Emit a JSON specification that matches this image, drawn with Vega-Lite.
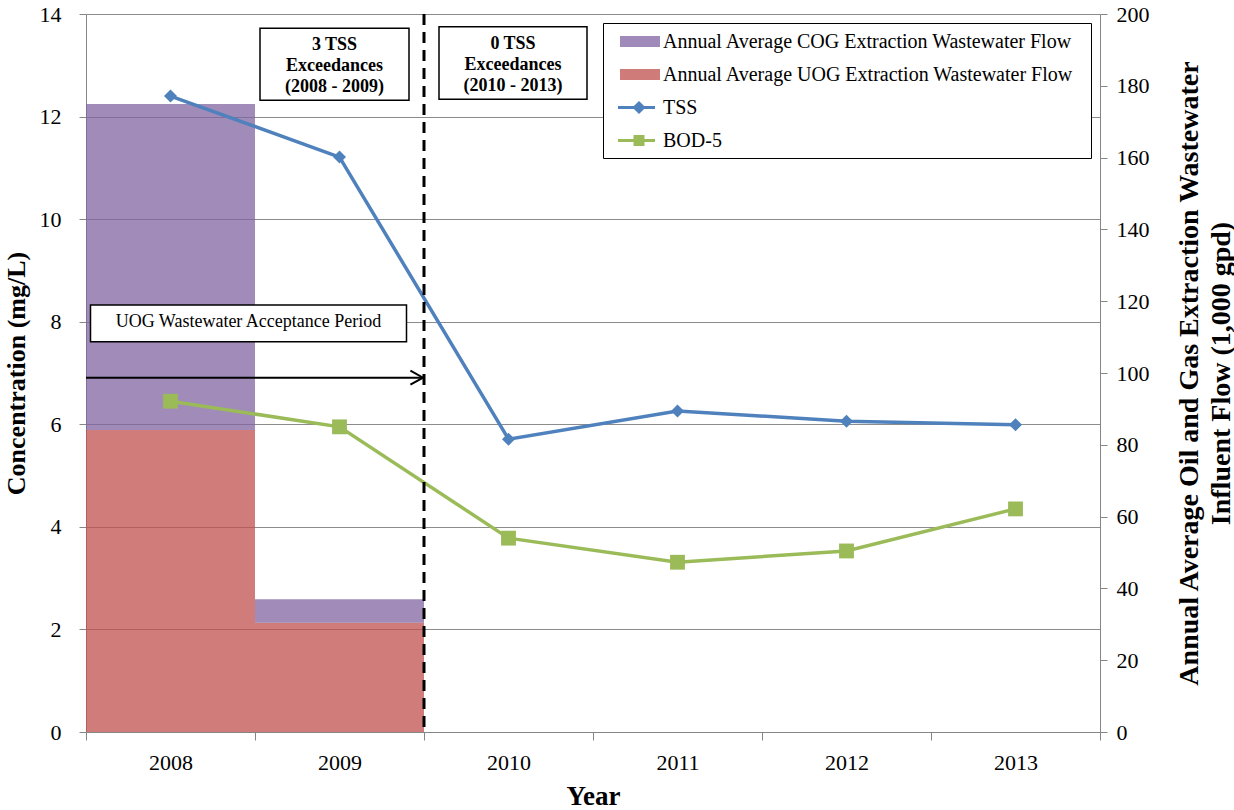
{
  "$schema": "https://vega.github.io/schema/vega-lite/v6.json",
  "width": 1014,
  "height": 718,
  "autosize": {"type": "none"},
  "padding": {"left": 86, "top": 14, "right": 134, "bottom": 78},
  "background": "white",
  "config": {
    "font": "Liberation Serif",
    "view": {"stroke": null},
    "axis": {
      "labelFont": "Liberation Serif",
      "titleFont": "Liberation Serif",
      "labelColor": "#000000",
      "titleColor": "#000000",
      "domainColor": "#868686",
      "tickColor": "#868686",
      "gridColor": "#8C8C8C",
      "labelFontSize": 22,
      "titleFontSize": 26,
      "titleFontWeight": "bold"
    },
    "legend": {
      "orient": "none",
      "legendX": 517,
      "legendY": 9,
      "padding": 7,
      "fillColor": "white",
      "strokeColor": "black",
      "symbolSize": 400,
      "symbolStrokeWidth": 3,
      "labelOffset": 30,
      "rowPadding": 11,
      "labelFont": "Liberation Serif",
      "labelFontSize": 20,
      "labelColor": "black",
      "labelLimit": 0
    }
  },
  "datasets": {
    "flow": [
      {"year": "2008", "type": "Annual Average UOG Extraction Wastewater Flow", "flow": 84.1},
      {"year": "2008", "type": "Annual Average COG Extraction Wastewater Flow", "flow": 90.8},
      {"year": "2009", "type": "Annual Average UOG Extraction Wastewater Flow", "flow": 30.4},
      {"year": "2009", "type": "Annual Average COG Extraction Wastewater Flow", "flow": 6.6}
    ],
    "conc": [
      {"year": "2008", "param": "TSS", "value": 12.4},
      {"year": "2009", "param": "TSS", "value": 11.21},
      {"year": "2010", "param": "TSS", "value": 5.71},
      {"year": "2011", "param": "TSS", "value": 6.26},
      {"year": "2012", "param": "TSS", "value": 6.06},
      {"year": "2013", "param": "TSS", "value": 5.99},
      {"year": "2008", "param": "BOD-5", "value": 6.45},
      {"year": "2009", "param": "BOD-5", "value": 5.95},
      {"year": "2010", "param": "BOD-5", "value": 3.78},
      {"year": "2011", "param": "BOD-5", "value": 3.31},
      {"year": "2012", "param": "BOD-5", "value": 3.53},
      {"year": "2013", "param": "BOD-5", "value": 4.35}
    ],
    "divider": [{"year": "2010"}],
    "arrow": [{"year": "2008"}, {"year": "2010"}]
  },
  "layer": [
    {
      "data": {"name": "flow"},
      "mark": {"type": "bar", "opacity": 0.75},
      "encoding": {
        "x": {
          "field": "year",
          "type": "ordinal",
          "scale": {"domain": ["2008", "2009", "2010", "2011", "2012", "2013"], "paddingInner": 0, "paddingOuter": 0},
          "axis": {
            "title": "Year",
            "titleFontSize": 27,
            "labelAngle": 0,
            "tickBand": "extent",
            "grid": false,
            "tickSize": 8,
            "labelPadding": 12,
            "titlePadding": 10
          }
        },
        "y": {
          "field": "flow",
          "type": "quantitative",
          "stack": "zero",
          "scale": {"domain": [0, 200], "nice": false},
          "axis": {
            "orient": "right",
            "values": [0, 20, 40, 60, 80, 100, 120, 140, 160, 180, 200],
            "grid": false,
            "title": ["Annual Average Oil and Gas Extraction Wastewater", "Influent Flow  (1,000 gpd)"],
            "titleFontSize": 28,
            "titleAngle": 270,
            "titleBaseline": "top",
            "titleAlign": "center",
            "titleLineHeight": 32,
            "titlePadding": -6,
            "tickSize": 7,
            "labelPadding": 9
          }
        },
        "color": {
          "field": "type",
          "type": "nominal",
          "scale": {
            "domain": ["Annual Average COG Extraction Wastewater Flow", "Annual Average UOG Extraction Wastewater Flow", "TSS", "BOD-5"],
            "range": ["#8064A2", "#C0504D", "#4F81BD", "#9BBB59"]
          },
          "legend": {
            "title": null,
            "labelExpr": "datum.label + '\u00a0\u00a0\u200b'",
            "symbolType": {"expr": "datum.value === 'TSS' ? 'M-0.35,0H3.35M1.75,-0.45L2.2,0L1.75,0.45L1.3,0Z' : datum.value === 'BOD-5' ? 'M-0.35,0H3.35M1.35,-0.4H2.15V0.4H1.35Z' : 'M0,-0.4H3.7V0.4H0Z'"},
            "symbolOpacity": {"expr": "indexof(datum.value, 'Flow') >= 0 ? 0.75 : 1"}
          }
        },
        "order": {"field": "type", "sort": "descending"}
      }
    },
    {
      "layer": [
        {
          "data": {"name": "conc"},
          "mark": {"type": "line", "strokeWidth": 3.5},
          "encoding": {
            "x": {"field": "year", "type": "ordinal"},
            "y": {
              "field": "value",
              "type": "quantitative",
              "scale": {"domain": [0, 14], "nice": false},
              "axis": {
                "orient": "left",
                "values": [0, 2, 4, 6, 8, 10, 12, 14],
                "grid": true,
                "title": "Concentration (mg/L)",
                "titlePadding": 10,
                "tickSize": 7,
                "labelPadding": 18
              }
            },
            "color": {
              "field": "param",
              "type": "nominal",
              "legend": {
                "title": null,
                "labelExpr": "datum.label + '\u00a0\u00a0\u200b'",
                "symbolType": {"expr": "datum.value === 'TSS' ? 'M-0.35,0H3.35M1.75,-0.45L2.2,0L1.75,0.45L1.3,0Z' : datum.value === 'BOD-5' ? 'M-0.35,0H3.35M1.35,-0.4H2.15V0.4H1.35Z' : 'M0,-0.4H3.7V0.4H0Z'"},
                "symbolOpacity": {"expr": "indexof(datum.value, 'Flow') >= 0 ? 0.75 : 1"}
              }
            }
          }
        },
        {
          "data": {"name": "conc"},
          "transform": [{"filter": "datum.param === 'TSS'"}],
          "mark": {"type": "point", "shape": "diamond", "filled": true, "size": 170, "opacity": 1},
          "encoding": {
            "x": {"field": "year", "type": "ordinal"},
            "y": {"field": "value", "type": "quantitative"},
            "color": {"field": "param", "type": "nominal", "legend": null}
          }
        },
        {
          "data": {"name": "conc"},
          "transform": [{"filter": "datum.param === 'BOD-5'"}],
          "mark": {"type": "point", "shape": "square", "filled": true, "size": 220, "opacity": 1},
          "encoding": {
            "x": {"field": "year", "type": "ordinal"},
            "y": {"field": "value", "type": "quantitative"},
            "color": {"field": "param", "type": "nominal", "legend": null}
          }
        },
        {
          "data": {"name": "divider"},
          "mark": {"type": "rule", "color": "black", "strokeWidth": 3, "strokeDash": [11, 7]},
          "encoding": {
            "x": {"field": "year", "type": "ordinal", "bandPosition": 0}
          }
        },
        {
          "data": {"name": "arrow"},
          "mark": {"type": "line", "color": "black", "strokeWidth": 2},
          "encoding": {
            "x": {"field": "year", "type": "ordinal", "bandPosition": 0},
            "y": {"datum": 6.908, "type": "quantitative"}
          }
        },
        {
          "data": {"values": [{}]},
          "mark": {"type": "point", "shape": "M-1.8,-1L0,0L-1.8,1", "filled": false, "size": 196, "stroke": "black", "strokeWidth": 2, "opacity": 1, "xOffset": -1},
          "encoding": {
            "x": {"datum": "2010", "type": "ordinal", "bandPosition": 0},
            "y": {"datum": 6.908, "type": "quantitative"}
          }
        },
        {
          "data": {"values": [{}]},
          "mark": {"type": "bar", "fill": "white", "stroke": "black", "strokeWidth": 1.5, "width": 149, "xOffset": -5},
          "encoding": {
            "x": {"datum": "2009", "type": "ordinal"},
            "y": {"datum": 13.72, "type": "quantitative"},
            "y2": {"datum": 12.32}
          }
        },
        {
          "data": {"values": [{}]},
          "mark": {"type": "text", "text": ["3 TSS", "Exceedances", "(2008 - 2009)"], "font": "Liberation Serif", "fontSize": 18, "fontWeight": "bold", "lineHeight": 21, "baseline": "middle", "align": "center", "xOffset": -5},
          "encoding": {
            "x": {"datum": "2009", "type": "ordinal"},
            "y": {"datum": 13.39, "type": "quantitative"}
          }
        },
        {
          "data": {"values": [{}]},
          "mark": {"type": "bar", "fill": "white", "stroke": "black", "strokeWidth": 1.5, "width": 148, "xOffset": 4.5},
          "encoding": {
            "x": {"datum": "2010", "type": "ordinal"},
            "y": {"datum": 13.75, "type": "quantitative"},
            "y2": {"datum": 12.34}
          }
        },
        {
          "data": {"values": [{}]},
          "mark": {"type": "text", "text": ["0 TSS", "Exceedances", "(2010 - 2013)"], "font": "Liberation Serif", "fontSize": 18, "fontWeight": "bold", "lineHeight": 21, "baseline": "middle", "align": "center", "xOffset": 4.5},
          "encoding": {
            "x": {"datum": "2010", "type": "ordinal"},
            "y": {"datum": 13.41, "type": "quantitative"}
          }
        },
        {
          "data": {"values": [{}]},
          "mark": {"type": "bar", "fill": "white", "stroke": "black", "strokeWidth": 1.5, "width": 316, "xOffset": 78},
          "encoding": {
            "x": {"datum": "2008", "type": "ordinal"},
            "y": {"datum": 8.326, "type": "quantitative"},
            "y2": {"datum": 7.61}
          }
        },
        {
          "data": {"values": [{}]},
          "mark": {"type": "text", "text": "UOG Wastewater Acceptance Period", "font": "Liberation Serif", "fontSize": 18, "baseline": "middle", "align": "center", "xOffset": 78},
          "encoding": {
            "x": {"datum": "2008", "type": "ordinal"},
            "y": {"datum": 7.987, "type": "quantitative"}
          }
        }
      ]
    }
  ],
  "resolve": {"scale": {"y": "independent"}}
}
